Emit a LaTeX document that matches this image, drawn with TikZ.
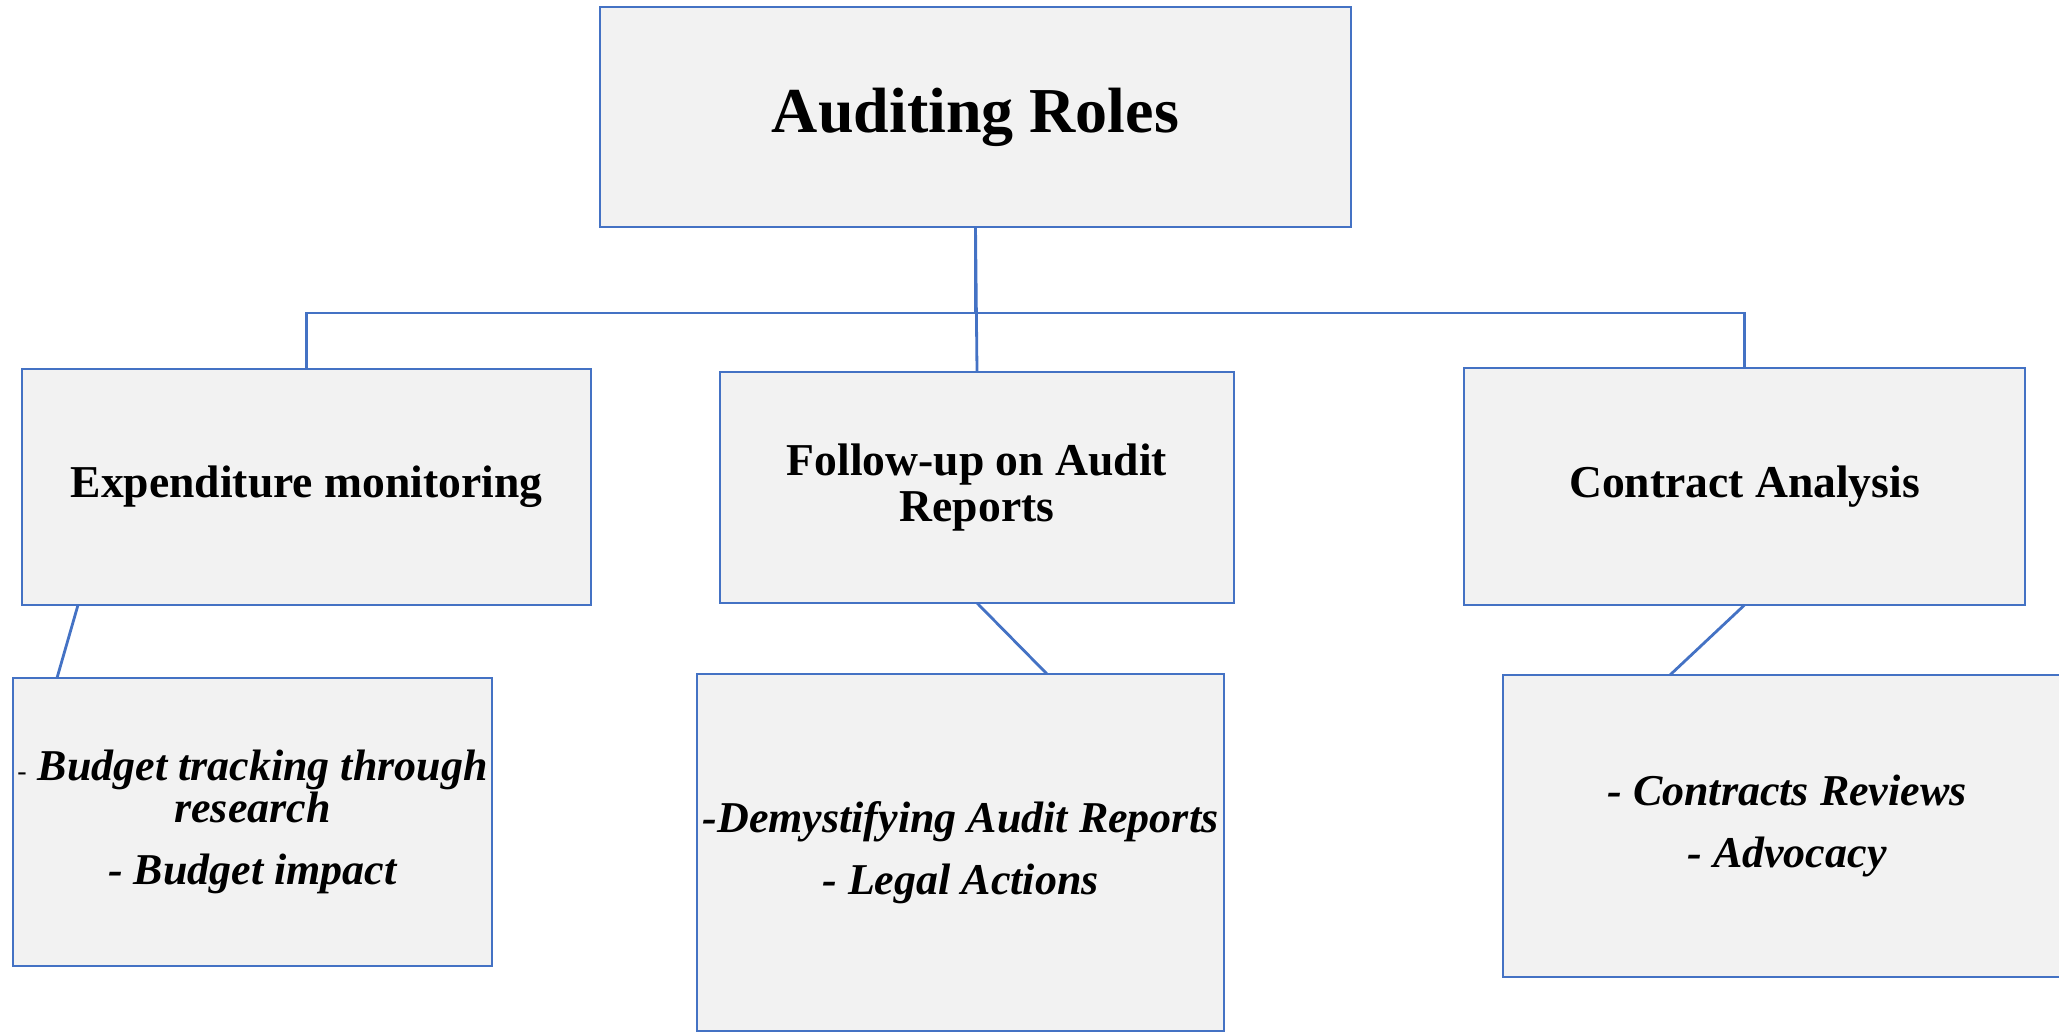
\documentclass[tikz,border=0pt]{standalone}
\usepackage{fontspec}
\setmainfont{Liberation Serif}
\definecolor{roleblue}{HTML}{4472C4}
\definecolor{rolefill}{HTML}{F2F2F2}

\begin{document}
\begin{tikzpicture}[x=0.5pt,y=-0.5pt,
  rolebox/.style={draw=roleblue, fill=rolefill, line width=1.4pt, inner sep=0pt, outer sep=0pt, align=center},
  rolehead/.style={rolebox, font=\fontsize{22.8}{23}\selectfont\bfseries},
  roletask/.style={rolebox, font=\fontsize{22}{21}\selectfont\bfseries\itshape},
  link/.style={draw=roleblue, line width=1.4pt}]

  \useasboundingbox (0,0) rectangle (2059,1032);
  \clip (0,0) rectangle (2059,1032);

  \node[rolebox, minimum width=375.5pt, minimum height=110pt, font=\fontsize{32}{34}\selectfont\bfseries] (root) at (975.5,117) {Auditing Roles};

  \node[rolehead, minimum width=284.5pt, minimum height=118pt] (expend) at (306.5,487) {Expenditure monitoring};
  \node[rolehead, minimum width=257pt, minimum height=115.5pt] (follow) at (977,487.5) {Follow-up on Audit\\Reports};
  \node[rolehead, minimum width=280.5pt, minimum height=118.5pt] (contract) at (1744.5,486.5) {Contract Analysis};

  \node[roletask, minimum width=239.5pt, minimum height=144pt] (expsub) at (252.5,822) {{\normalfont\fontsize{14}{14}\selectfont -} Budget tracking through\\research\\[10pt]- Budget impact};
  \node[roletask, minimum width=263.5pt, minimum height=178.5pt] (follsub) at (960.5,852.5) {-Demystifying Audit Reports\\[10pt]- Legal Actions};
  \node[roletask, minimum width=284pt, minimum height=151pt] (contsub) at (1787,826) {- Contracts Reviews\\[10pt]- Advocacy};

  \coordinate (bar) at (975.5,313);
  \draw[link] (root.south) -- (bar) -| (expend.north);
  \draw[link] (bar) -| (contract.north);
  \draw[link] (root.south) -- (follow.north);

  \draw[link] ([xshift=28pt]expend.south west) -- ([xshift=22pt]expsub.north west);
  \draw[link] (follow.south) -- ([xshift=43.25pt]follsub.north);
  \draw[link] (contract.south) -- ([xshift=83.5pt]contsub.north west);

\end{tikzpicture}
\end{document}
